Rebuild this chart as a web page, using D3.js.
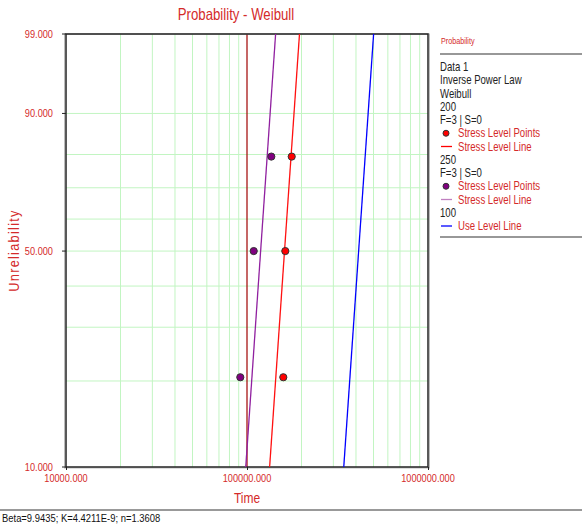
<!DOCTYPE html>
<html>
<head>
<meta charset="utf-8">
<script src="https://cdn.jsdelivr.net/npm/d3@7"></script>
<style>
  body { margin: 0; background: #fff; }
  text { font-family: 'Liberation Sans Narrow', 'Arial Narrow', 'Liberation Sans', sans-serif; }
</style>
</head>
<body>
<div id="chart"></div>
<script>
// data
const xTicks = [10000, 100000, 1000000];
const yTicks = [10, 50, 90, 99];
const yGrid = [20, 30, 40, 50, 60, 70, 80, 90];
const unrelPoints = [20.59, 50, 79.41];
const timesStress200 = [158700, 162800, 176600];
const timesStress250 = [91840, 108900, 136260];
// fitted lines, end points at 10% and 99%
const lineUnrel = [10, 99];
const line200 = [133350, 194980];
const line250 = [98400, 143900];
const line100 = [342400, 500600];
const refLine = 100000;

const width = 582, height = 526;
const margin = { top: 34, right: 154, bottom: 59, left: 66 };
const red = '#d42a2a';
const squeeze = 0.8; // no narrow font installed, squash the text instead

const svg = d3.select('#chart').append('svg')
  .attr('width', width)
  .attr('height', height);

// narrow text helper
function label(parent, x, y, str, size, fill, anchor, k) {
  return parent.append('text')
    .attr('transform', `translate(${x},${y}) scale(${k || squeeze},1)`)
    .attr('text-anchor', anchor || 'start')
    .attr('fill', fill)
    .style('font-size', size + 'px')
    .text(str);
}

// weibull probability scale
const wb = p => Math.log(-Math.log(1 - p / 100));
const yLin = d3.scaleLinear()
  .domain([wb(10), wb(99)])
  .range([height - margin.bottom, margin.top]);
const y = p => yLin(wb(p));
const x = d3.scaleLog()
  .domain([10000, 1000000])
  .range([margin.left, width - margin.right]);

// grid
const minorX = [];
[10000, 100000].forEach(d => { for (let i = 2; i < 10; i++) minorX.push(d * i); });
svg.append('g').selectAll('line').data(minorX).join('line')
  .attr('x1', d => x(d)).attr('x2', d => x(d))
  .attr('y1', margin.top).attr('y2', height - margin.bottom)
  .attr('stroke', '#c2f5c2').attr('stroke-width', 1);
svg.append('g').selectAll('line').data(yGrid).join('line')
  .attr('x1', margin.left).attr('x2', width - margin.right)
  .attr('y1', d => y(d)).attr('y2', d => y(d))
  .attr('stroke', '#c2f5c2').attr('stroke-width', 1);

svg.append('line')
  .attr('x1', x(refLine)).attr('x2', x(refLine))
  .attr('y1', margin.top).attr('y2', height - margin.bottom)
  .attr('stroke', '#a00000').attr('stroke-width', 1.2);

// frame with a little shadow
svg.append('rect')
  .attr('x', margin.left - 1.5).attr('y', margin.top)
  .attr('width', width - margin.right - margin.left + 3)
  .attr('height', height - margin.bottom - margin.top + 1)
  .attr('fill', 'none').attr('stroke', '#bbb').attr('stroke-width', 1);
svg.append('rect')
  .attr('x', margin.left).attr('y', margin.top)
  .attr('width', width - margin.right - margin.left)
  .attr('height', height - margin.bottom - margin.top)
  .attr('fill', 'none').attr('stroke', '#222').attr('stroke-width', 1.5);

// axes
const yt = svg.append('g');
yt.selectAll('line').data(yTicks).join('line')
  .attr('x1', margin.left - 4).attr('x2', margin.left)
  .attr('y1', d => y(d)).attr('y2', d => y(d))
  .attr('stroke', '#222');
yTicks.forEach(d => label(yt, margin.left - 13, y(d) + 4, d3.format('.3f')(d), 11.5, red, 'end'));

const xAxis = svg.append('g')
  .attr('transform', `translate(0,${height - margin.bottom})`)
  .call(d3.axisBottom(x).tickValues(xTicks).tickSize(3).tickFormat(''));
xAxis.select('.domain').remove();
xAxis.selectAll('line').attr('stroke', '#222');
xTicks.forEach(d => label(svg, x(d), height - margin.bottom + 15, d3.format('.3f')(d), 11.5, red, 'middle'));

label(svg, (margin.left + width - margin.right) / 2, 503, 'Time', 15, red, 'middle');
svg.append('text')
  .attr('transform', `translate(19,${(margin.top + height - margin.bottom) / 2}) rotate(-90) scale(0.85,1)`)
  .attr('text-anchor', 'middle').attr('fill', red).style('font-size', '15px')
  .style('letter-spacing', '1.5px')
  .text('Unreliability');
label(svg, 236, 20, 'Probability - Weibull', 16.5, red, 'middle');

// lines
const mkLine = (times, color) => {
  svg.append('line')
    .attr('x1', x(times[0])).attr('y1', y(lineUnrel[0]))
    .attr('x2', x(times[1])).attr('y2', y(lineUnrel[1]))
    .attr('stroke', color).attr('stroke-width', 1.3);
};
mkLine(line250, '#9020a0');
mkLine(line200, '#ff1010');
mkLine(line100, '#0000ff');

// points
const mkPoints = (times, fill) => {
  svg.append('g').selectAll('circle').data(times).join('circle')
    .attr('cx', d => x(d)).attr('cy', (d, i) => y(unrelPoints[i]))
    .attr('r', 3.6).attr('fill', fill).attr('stroke', '#333').attr('stroke-width', 1);
};
mkPoints(timesStress200, '#ff0000');
mkPoints(timesStress250, '#800080');

// legend
const lg = svg.append('g').attr('transform', 'translate(440,0)');
label(lg, 1, 44, 'Probability', 9, red, 'start');
lg.append('line').attr('x1', 0).attr('x2', 142).attr('y1', 54).attr('y2', 54).attr('stroke', '#333').attr('stroke-width', 1.2);
const rows = [
  { t: 'Data 1' }, { t: 'Inverse Power Law' }, { t: 'Weibull' }, { t: '200' }, { t: 'F=3 | S=0' },
  { t: 'Stress Level Points', dot: '#ff0000' }, { t: 'Stress Level Line', line: '#ff0000' },
  { t: '250' }, { t: 'F=3 | S=0' },
  { t: 'Stress Level Points', dot: '#800080' }, { t: 'Stress Level Line', line: '#c080c0' },
  { t: '100' }, { t: 'Use Level Line', line: '#0000ff' }
];
rows.forEach((r, i) => {
  const yy = 71 + i * 13.25;
  const marked = r.dot || r.line;
  label(lg, marked ? 18 : 0, yy, r.t, 12, marked ? red : '#222', 'start');
  if (r.dot) lg.append('circle').attr('cx', 6).attr('cy', yy - 4).attr('r', 3).attr('fill', r.dot).attr('stroke', '#333');
  if (r.line) lg.append('line').attr('x1', 1).attr('x2', 12).attr('y1', yy - 4).attr('y2', yy - 4).attr('stroke', r.line).attr('stroke-width', 1.3);
});
lg.append('line').attr('x1', 0).attr('x2', 142).attr('y1', 237).attr('y2', 237).attr('stroke', '#333').attr('stroke-width', 1.2);

// status bar
svg.append('line').attr('x1', 0).attr('x2', width).attr('y1', 510).attr('y2', 510).attr('stroke', '#777').attr('stroke-width', 1.5);
label(svg, 2, 522, 'Beta=9.9435; K=4.4211E-9; n=1.3608', 11.5, '#111', 'start', 0.82);
</script>
</body>
</html>
